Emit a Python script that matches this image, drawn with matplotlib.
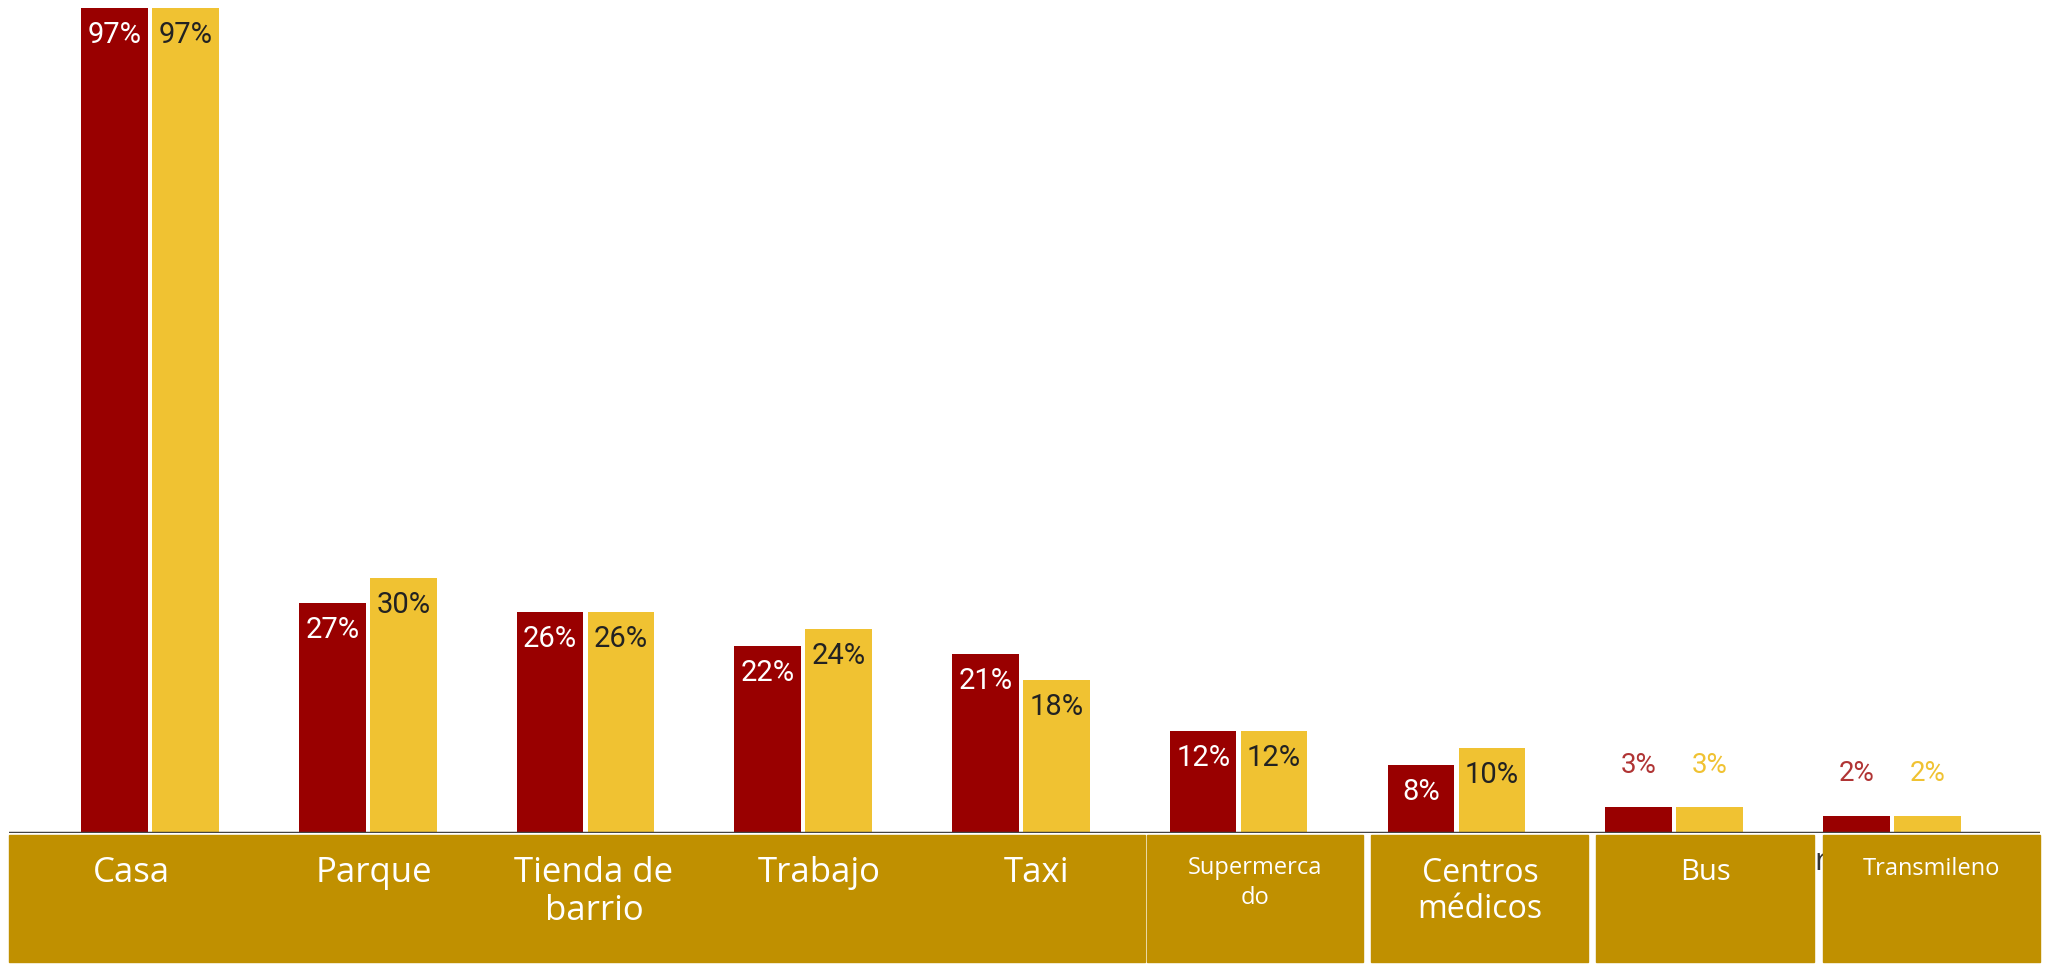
import numpy as np
import matplotlib
matplotlib.use("Agg")
import matplotlib.pyplot as plt
from matplotlib.patches import Rectangle

############################################
# data
############################################

categories = ["Casa", "Parque", "Tienda de\nbarrio", "Trabajo", "Taxi",
              "Supermerca\ndo", "Centros\nmédicos", "Bus", "Transmileno"]
serie_a = [97, 27, 26, 22, 21, 12, 8, 3, 2]     # rojo
serie_b = [97, 30, 26, 24, 18, 12, 10, 3, 2]    # amarillo
outside_labels = [7, 8]   # categorias con etiqueta encima de la barra

############################################
# estilo / layout (pixeles de la figura 2048x965)
############################################

RED = "#990000"
YELLOW = "#F0C232"
GOLD = "#C09000"
W, H = 2048, 965

fig = plt.figure(figsize=(W / 100, H / 100), dpi=100)

# eje principal: linea base en y=833 px, de x=9 a x=2040
ax = fig.add_axes([9 / W, (H - 833) / H, (2040 - 9) / W, 833 / H])
x = np.arange(len(categories))
bw = 0.306
off = 0.163
ax.bar(x - off, serie_a, bw, color=RED, zorder=2)
ax.bar(x + off, serie_b, bw, color=YELLOW, zorder=2)
ax.set_xlim(-0.648, 8.681)
ax.set_ylim(0, 97.94)
ax.axis("off")
ax.axhline(0, color="#444444", lw=2.5, zorder=3)

for i in x:
    for val, dx, inside_col, out_col in [(serie_a[i], -off, "white", "#B03434"),
                                         (serie_b[i], off, "#222222", YELLOW)]:
        if i in outside_labels:
            ax.annotate(f"{val}%", (i + dx, val), xytext=(0, 42),
                        textcoords="offset pixels", ha="center", va="center",
                        fontsize=20, color=out_col, family="Roboto")
        else:
            ax.annotate(f"{val}%", (i + dx, val), xytext=(0, -27),
                        textcoords="offset pixels", ha="center", va="center",
                        fontsize=21, color=inside_col, family="Roboto")

############################################
# franja inferior con nombres
############################################

band = fig.add_axes([0, 0, 1, 1], zorder=5)
band.set_xlim(0, W)
band.set_ylim(H, 0)
band.axis("off")
band.patch.set_alpha(0)

# cajas: (x0, x1, zorder)
boxes = [(9, 1145, 2), (1147, 1363, 2), (1371, 1588, 2), (1596, 1814, 2), (1823, 2040, 4)]
for x0, x1, z in boxes:
    band.add_patch(Rectangle((x0, 835), x1 - x0, 127, color=GOLD, zorder=z))

label_x = [131, 374, 594, 819, 1037, 1255, 1480, 1705, 1931]
label_y = [873, 873, 873, 873, 873, 868, 873, 873, 869]
label_size = [25, 25, 25, 25, 25, 17, 23, 21, 17]
line_step = [38, 38, 38, 38, 38, 30, 36, 36, 30]
for name, lx, ly, fs, step in zip(categories, label_x, label_y, label_size, line_step):
    for k, line in enumerate(name.split("\n")):
        band.text(lx, ly + k * step, line, ha="center", va="center",
                  fontsize=fs, color="white", family="Open Sans", zorder=5)

# fragmento de texto oculto detras de la ultima caja
band.text(1821, 862, "r", ha="center", va="center", fontsize=22,
          color="#333333", zorder=3, family="Open Sans")

fig.savefig("out.png", dpi=100)
